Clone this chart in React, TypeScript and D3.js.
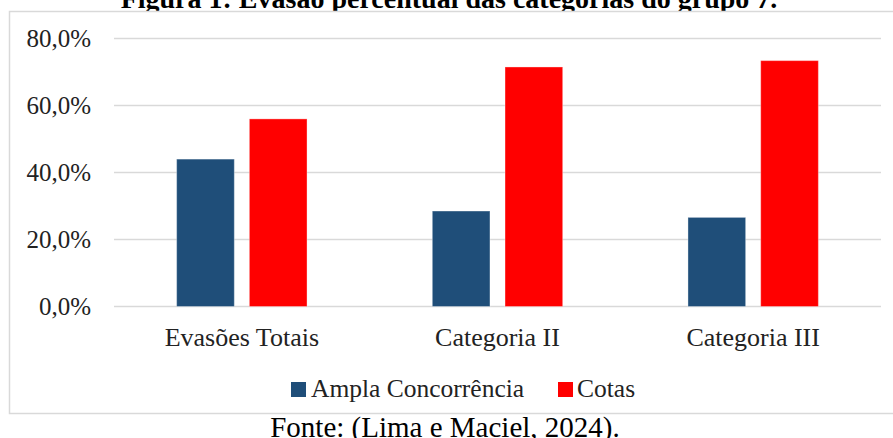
import React from "react";
import * as d3 from "d3";

const categories = ["Evasões Totais", "Categoria II", "Categoria III"];
const seriesNames = ["Ampla Concorrência", "Cotas"];
const amplaValues = [0.44, 0.285, 0.266];
const cotasValues = [0.56, 0.715, 0.734];
const yTicks = [0, 0.2, 0.4, 0.6, 0.8];
const colors = ["#1F4E79", "#FF0000"];
const titleText = "Figura 1: Evasão percentual das categorias do grupo 7.";
const sourceText = "Fonte: (Lima e Maciel, 2024).";

const W = 893;
const H = 438;
const FONT = "'Liberation Serif', 'Times New Roman', serif";

export default function App() {
  const x0 = d3
    .scaleBand<string>()
    .domain(categories)
    .range([114, 881])
    .paddingInner(0.49)
    .paddingOuter(0.245);
  const x1 = d3
    .scaleBand<string>()
    .domain(seriesNames)
    .range([0, x0.bandwidth()])
    .paddingInner(0.207)
    .paddingOuter(0);
  const y = d3.scaleLinear().domain([0, 0.8]).range([306.5, 38.5]);
  const fmt = (v: number) => (v * 100).toFixed(1).replace(".", ",") + "%";
  const series = [amplaValues, cotasValues];

  return (
    <svg
      width={W}
      height={H}
      style={{ position: "absolute", left: 0, top: 0, background: "#fff" }}
      fontFamily={FONT}
    >
      <rect x={0} y={0} width={W} height={H} fill="#fff" />
      <text
        x={449}
        y={8}
        textAnchor="middle"
        fontWeight="bold"
        fontSize={28}
        fill="#000"
      >
        {titleText}
      </text>
      <rect
        x={9.5}
        y={11.5}
        width={W + 10}
        height={402}
        fill="#fff"
        stroke="#D9D9D9"
        strokeWidth={1.5}
      />
      {yTicks.map((t) => (
        <g key={t}>
          <line
            x1={114}
            x2={881}
            y1={y(t)}
            y2={y(t)}
            stroke="#D9D9D9"
            strokeWidth={1.5}
          />
          <text
            x={91}
            y={y(t)}
            dy="0.35em"
            textAnchor="end"
            fontSize={25}
            fill="#222"
          >
            {fmt(t)}
          </text>
        </g>
      ))}
      {categories.map((c, ci) => (
        <g key={c} transform={`translate(${x0(c)},0)`}>
          {seriesNames.map((s, si) => (
            <rect
              key={s}
              x={x1(s)}
              y={y(series[si][ci])}
              width={x1.bandwidth()}
              height={y(0) - y(series[si][ci])}
              fill={colors[si]}
              stroke="#ffffff"
              strokeOpacity={0.35}
              strokeWidth={1}
            />
          ))}
          <text
            x={x0.bandwidth() / 2}
            y={346}
            textAnchor="middle"
            fontSize={26}
            fill="#222"
          >
            {c}
          </text>
        </g>
      ))}
      <g>
        <rect x={291} y={382} width={15} height={15} fill={colors[0]} />
        <text x={311} y={397} fontSize={25.5} fill="#222">
          {seriesNames[0]}
        </text>
        <rect x={558} y={382} width={15} height={15} fill={colors[1]} />
        <text x={577} y={397} fontSize={25.5} fill="#222">
          {seriesNames[1]}
        </text>
      </g>
      <text x={445} y={437} textAnchor="middle" fontSize={29} fill="#000">
        {sourceText}
      </text>
    </svg>
  );
}
